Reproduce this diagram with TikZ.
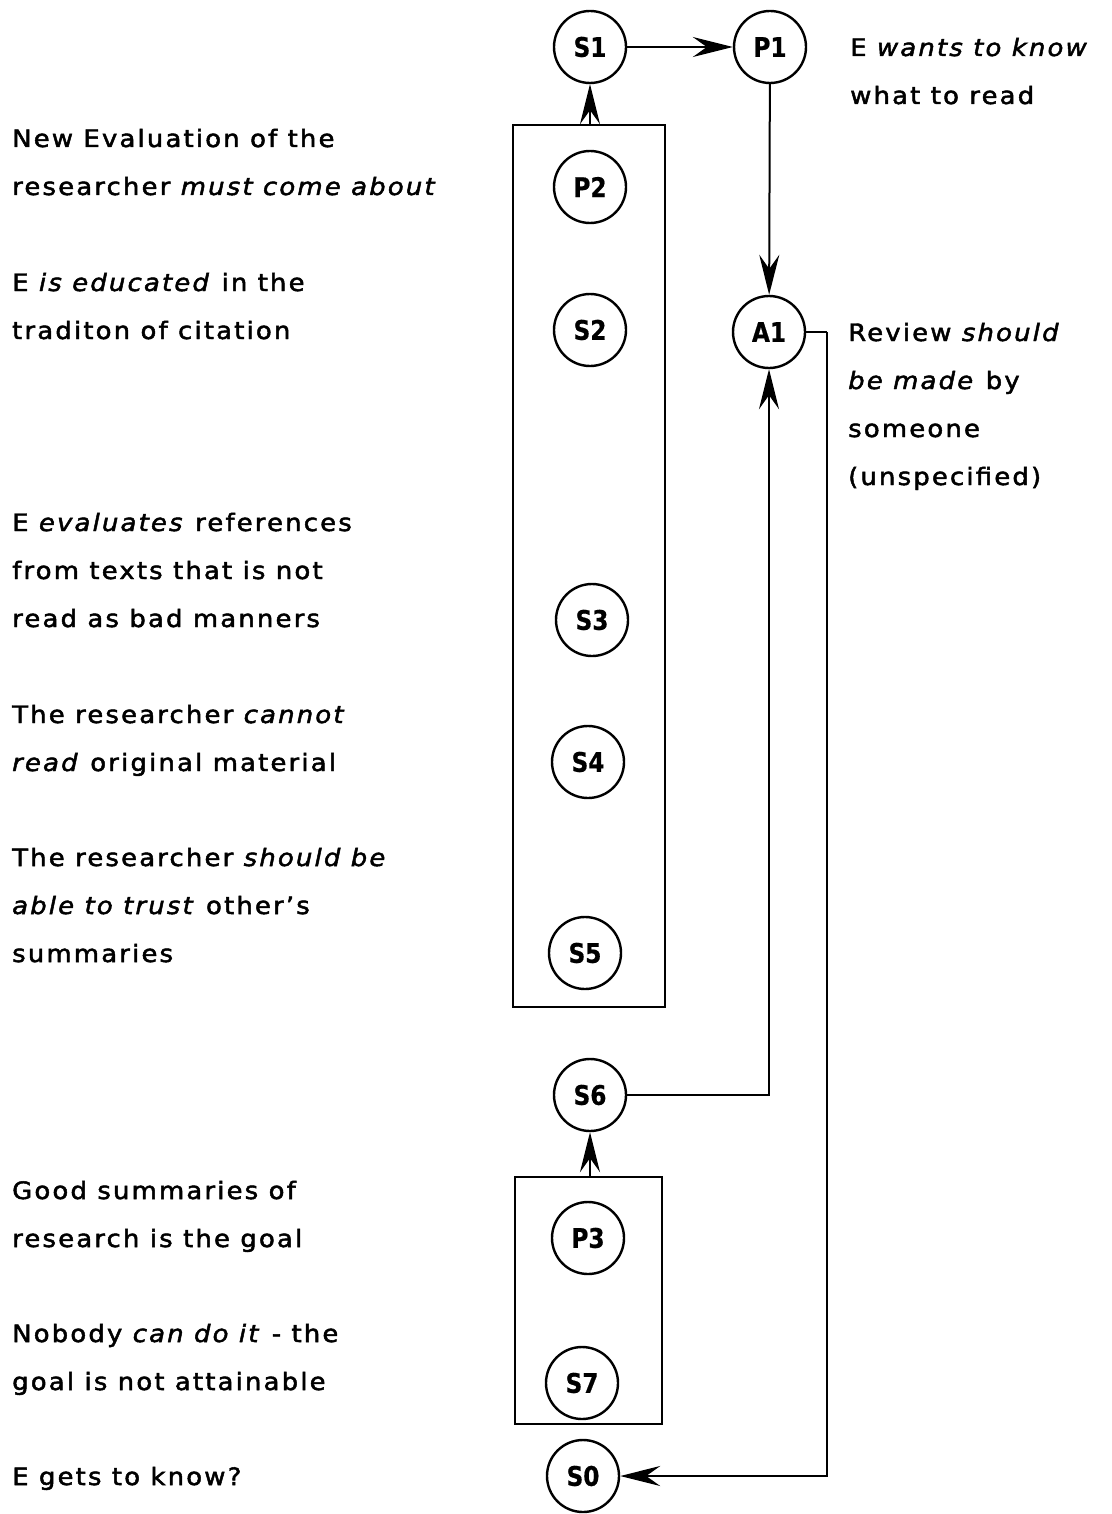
\documentclass[tikz,border=0pt]{standalone}
\usepackage{fontspec}
\setmainfont{DejaVu Sans}[LetterSpace=9,FakeStretch=1.08,FakeBold=2]
\newfontfamily\statefont{DejaVu Sans}[FakeStretch=0.86,FakeBold=0.6]
\usetikzlibrary{arrows.meta,positioning}
\tikzset{
  state/.style={circle,draw,line width=2.4pt,minimum size=72pt,inner sep=0pt,
    font=\fontsize{27}{27}\statefont\bfseries},
  arr/.style={line width=2pt,-{Stealth[length=40pt,width=20pt,inset=14pt]}},
  link/.style={line width=2pt},
  note/.style={anchor=base west,align=left,inner sep=0pt,
    font=\fontsize{24}{48}\selectfont},
  frame/.style={draw,line width=2.4pt,inner sep=0pt},
}
\begin{document}
\begin{tikzpicture}[x=1pt,y=-1pt]
\useasboundingbox (0,0) rectangle (1111,1514);
% frames
\node[frame,minimum width=152pt,minimum height=882pt] (box1) at (589,566) {};
\node[frame,minimum width=147pt,minimum height=247pt] (box2) at (588.5,1300.5) {};
% states
\node[state] (s1) at (590,47) {S1};
\node[state] (p1) at (770,47) {P1};
\node[state] (a1) at (769,332) {A1};
\node[state] (p2) at (590,187) {P2};
\node[state] (s2) at (590,330) {S2};
\node[state] (s3) at (592,620) {S3};
\node[state] (s4) at (588,762) {S4};
\node[state] (s5) at (585,953) {S5};
\node[state] (s6) at (590,1095) {S6};
\node[state] (p3) at (588,1238) {P3};
\node[state] (s7) at (582,1383) {S7};
\node[state] (s0) at (583,1476) {S0};
% connectors
\draw[arr] (s1) -- (p1);
\draw[arr] (p1) -- (a1);
\draw[arr] (box1.north -| s1) -- (s1);
\draw[arr] (box2.north -| s6) -- (s6);
\draw[arr] (s6.east) -| (a1.south);
\coordinate (turn) at (827,332);
\draw[link] (a1.east) -- (turn);
\draw[arr] (turn) |- (s0.east);
% texts (anchored at the last line)
\node[note] (t1) at (12,195) {New Evaluation of the\\researcher \textit{must come about}};
\node[note] (t2) at (12,339) {E \textit{is educated} in the\\traditon of citation};
\node[note] (t3) at (12,627) {E \textit{evaluates} references\\from texts that is not\\read as bad manners};
\node[note] (t4) at (12,771) {The researcher \textit{cannot}\\\textit{read} original material};
\node[note] (t5) at (12,962) {The researcher \textit{should be}\\\textit{able to trust} other's\\summaries};
\node[note] (t6) at (12,1247) {Good summaries of\\research is the goal};
\node[note] (t7) at (12,1390) {Nobody \textit{can do it} - the\\goal is not attainable};
\node[note] (t8) at (12,1485) {E gets to know?};
\node[note] (t9) at (850,104) {E \textit{wants to know}\\what to read};
\node[note] (t10) at (848,485) {Review \textit{should}\\\textit{be made} by\\someone\\(unspecified)};
\end{tikzpicture}
\end{document}
